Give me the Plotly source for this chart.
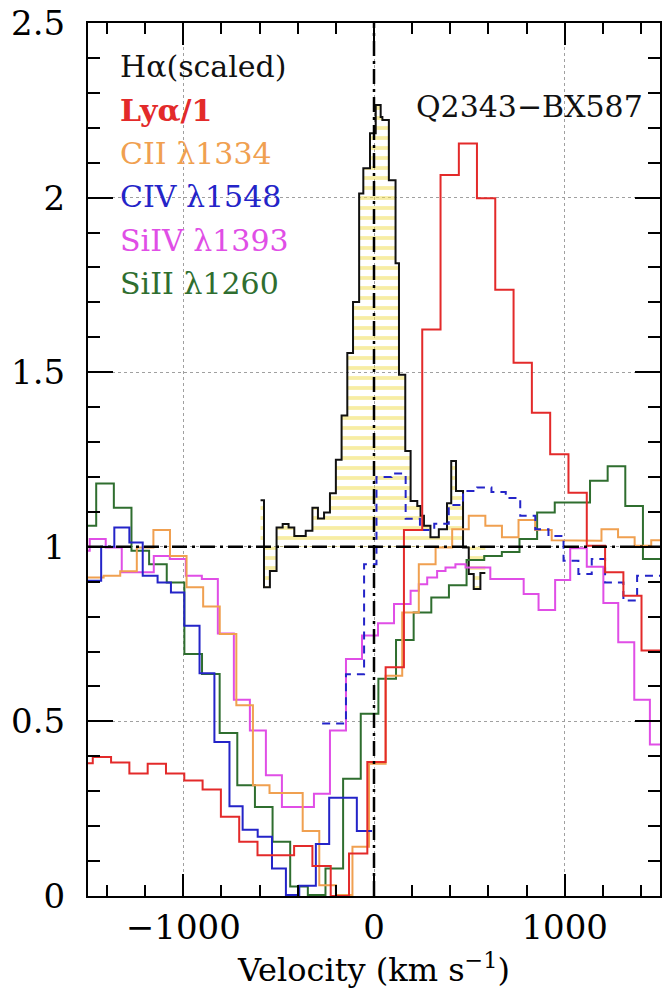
import numpy as np
import plotly.graph_objects as go

# ---------------------------------------------------------------
# Spectra of Q2343-BX587, normalised flux vs. velocity (km/s).
# Each series is a binned spectrum: bin edges + flux per bin.
# ---------------------------------------------------------------

# H-alpha (scaled), shaded relative to the continuum level 1
ha_edges = [-595, -577, -546, -511, -479, -448, -418, -389, -358, -323,
            -294, -262, -231, -200, -170, -140, -110, -78, -56, -21,
            9, 35, 44, 78, 113, 131, 164, 192, 227, 244,
            262, 296, 340, 383, 405, 430, 467, 497, 523, 558, 584]
ha_flux = [1.133, 0.884, 0.931, 1.055, 1.065, 1.055, 1.031, 1.031, 1.046, 1.112,
           1.081, 1.098, 1.153, 1.249, 1.376, 1.555, 1.701, 2.012, 2.084, 2.184,
           2.265, 2.231, 2.222, 2.050, 1.812, 1.493, 1.274, 1.131, 1.117, 1.089,
           1.060, 1.027, 1.050, 1.125, 1.246, 1.160, 0.998, 0.922, 0.879, 0.925]

# Ly-alpha / 1
lya_edges = [-1571, -1475, -1379, -1283, -1187, -1091, -995, -899, -803, -707,
             -611, -515, -419, -323, -227, -131, -35, 61, 157, 253,
             349, 445, 540, 636, 732, 828, 924, 1020, 1116, 1212,
             1308, 1403, 1500]
lya_flux = [0.380, 0.398, 0.382, 0.351, 0.379, 0.351, 0.331, 0.305, 0.227, 0.155,
            0.117, 0.117, 0.143, 0.086, 0.000, 0.122, 0.384, 0.655, 1.048, 1.622,
            2.065, 2.155, 1.998, 1.736, 1.527, 1.384, 1.265, 1.155, 1.003, 0.927,
            0.860, 0.703]

# C II 1334
cii_edges = [-1505, -1418, -1331, -1244, -1157, -1070, -983, -896, -809, -722,
             -635, -548, -461, -374, -287, -200, -113, -26, 61, 148,
             235, 323, 410, 497, 584, 671, 758, 845, 932, 1019,
             1106, 1193, 1280, 1367, 1454, 1541]
cii_flux = [0.912, 0.917, 0.930, 0.998, 1.048, 0.974, 0.884, 0.829, 0.750, 0.546,
            0.317, 0.295, 0.295, 0.186, 0.031, 0.003, 0.141, 0.379, 0.631, 0.812,
            0.950, 0.998, 1.050, 1.089, 1.060, 1.027, 1.077, 1.048, 1.019, 1.017,
            1.017, 1.050, 1.027, 1.003, 1.019]

# C IV 1548 (solid part)
civ_edges = [-1506, -1431, -1362, -1283, -1213, -1135, -1065, -995, -915, -837,
             -758, -689, -610, -535, -462, -392, -305, -235, -170, -90, -10]
civ_flux = [0.903, 1.000, 1.055, 1.012, 0.917, 0.898, 0.869, 0.774, 0.638, 0.441,
            0.257, 0.190, 0.170, 0.079, 0.003, 0.029, 0.149, 0.281, 0.281, 0.186]

# C IV (dashed part)
civd_edges = [-272, -147, -52, 13, 92, 166, 241, 316, 392, 467,
              541, 616, 691, 767, 846, 915, 994, 1072, 1142, 1212,
              1308, 1380, 1510]
civd_flux = [0.494, 0.635, 0.950, 1.200, 1.210, 1.080, 1.048, 1.066, 1.120, 1.160,
             1.170, 1.157, 1.140, 1.089, 1.050, 1.031, 0.960, 0.922, 0.965, 0.898,
             0.846, 0.917]

# Si IV 1393
siiv_edges = [-1575, -1491, -1407, -1323, -1239, -1155, -1071, -987, -903, -819,
              -735, -651, -567, -483, -399, -315, -231, -147, -63, 21,
              105, 192, 235, 279, 331, 375, 427, 480, 610, 785,
              863, 950, 1029, 1116, 1203, 1281, 1365, 1447, 1531]
siiv_flux = [0.989, 1.022, 0.998, 0.927, 0.927, 0.974, 0.965, 0.917, 0.908, 0.752,
             0.562, 0.474, 0.346, 0.255, 0.255, 0.293, 0.474, 0.679, 0.746, 0.781,
             0.836, 0.874, 0.893, 0.912, 0.931, 0.941, 0.950, 0.941, 0.908, 0.865,
             0.819, 0.905, 0.996, 0.943, 0.839, 0.727, 0.562, 0.434]

# Si II 1260
sii_edges = [-1549.5, -1457, -1364.5, -1272, -1179.5, -1087, -994.5, -902, -809.5, -717,
             -624.5, -532, -439.5, -347, -254.5, -162, -69.5, 23, 115.5, 208,
             300.5, 393, 485.5, 578, 670.5, 763, 855.5, 948, 1040.5, 1133,
             1225.5, 1318, 1410.5, 1503]
sii_flux = [1.060, 1.181, 1.112, 0.989, 0.950, 0.898, 0.693, 0.636, 0.467, 0.317,
            0.255, 0.155, 0.027, 0.003, 0.079, 0.336, 0.522, 0.622, 0.733, 0.812,
            0.855, 0.890, 0.962, 0.974, 0.985, 1.022, 1.098, 1.127, 1.127, 1.189,
            1.231, 1.117, 0.965]

# Axis ticks
x_tickvals = [-1000, 0, 1000]
x_ticktext = ["\u22121000", "0", "1000"]
y_tickvals = [0, 0.5, 1, 1.5, 2, 2.5]
y_ticktext = ["0", "0.5", "1", "1.5", "2", "2.5"]

# Labels
legend_lines = [
    ("H\u03b1(scaled)", "#111111", False),
    ("Ly\u03b1/1", "#e32a2a", True),
    ("CII \u03bb1334", "#f0a050", False),
    ("CIV \u03bb1548", "#2424c8", False),
    ("SiIV \u03bb1393", "#e04ee6", False),
    ("SiII \u03bb1260", "#2f6e2f", False),
]
object_name = "Q2343\u2212BX587"

FONT = "DejaVu Serif"

RED = "#e32a2a"
ORANGE = "#f0a050"
BLUE = "#2424c8"
MAGENTA = "#e04ee6"
GREEN = "#2f6e2f"


def steps(edges, flux):
    """Outline of a binned spectrum: a flat segment across every bin."""
    xs, ys = [], []
    for i, f in enumerate(flux):
        xs += [edges[i], edges[i + 1]]
        ys += [f, f]
    return xs, ys


fig = go.Figure()

# continuum baseline for the H-alpha shading
fig.add_trace(go.Scatter(x=[ha_edges[0], ha_edges[-1]], y=[1, 1], mode="lines",
                         line=dict(width=0, color="rgba(0,0,0,0)"),
                         showlegend=False, hoverinfo="skip"))
hx, hy = steps(ha_edges, ha_flux)
fig.add_trace(go.Scatter(
    x=hx, y=hy, mode="lines", fill="tonexty",
    fillcolor="rgba(0,0,0,0)",
    fillpattern=dict(shape="-", fgcolor="#f0dc4a", bgcolor="rgba(255,255,255,0)",
                     size=10, solidity=0.38),
    line=dict(color="#111111", width=2), showlegend=False))

series = [
    (sii_edges, sii_flux, GREEN, "solid"),
    (siiv_edges, siiv_flux, MAGENTA, "solid"),
    (cii_edges, cii_flux, ORANGE, "solid"),
    (civ_edges, civ_flux, BLUE, "solid"),
    (civd_edges, civd_flux, BLUE, "8px,6px"),
    (lya_edges, lya_flux, RED, "solid"),
]
for e, f, c, d in series:
    sx, sy = steps(e, f)
    fig.add_trace(go.Scatter(x=sx, y=sy, mode="lines",
                             line=dict(color=c, width=2, dash=d),
                             showlegend=False))

# reference lines: systemic velocity and continuum
ref_dash = "15px,5px,3px,5px"
fig.add_shape(type="line", x0=0, x1=0, y0=0, y1=1, xref="x", yref="paper",
              line=dict(color="black", width=2.5, dash=ref_dash), layer="above")
fig.add_shape(type="line", x0=0, x1=1, y0=1, y1=1, xref="paper", yref="y",
              line=dict(color="black", width=2.5, dash=ref_dash), layer="above")

# line labels
y0 = 0.950
for i, (txt, col, bold) in enumerate(legend_lines):
    fig.add_annotation(x=0.052, y=y0 - i * 0.0497, xref="paper", yref="paper",
                       text=f"<b>{txt}</b>" if bold else txt, showarrow=False,
                       xanchor="left", yanchor="middle",
                       font=dict(family=FONT, size=30, color=col))
fig.add_annotation(x=0.570, y=0.904, xref="paper", yref="paper", text=object_name,
                   showarrow=False, xanchor="left", yanchor="middle",
                   font=dict(family=FONT, size=30, color="#111111"))

axis_common = dict(
    showline=True, linewidth=2, linecolor="black", mirror="ticks",
    ticks="inside", tickcolor="black", tickwidth=2,
    showgrid=True, gridcolor="#a0a0a0", griddash="dot", gridwidth=1,
    zeroline=False,
    tickfont=dict(family=FONT, size=34, color="black"),
)

fig.update_xaxes(
    range=[-1500, 1500], tickmode="array", tickvals=x_tickvals, ticktext=x_ticktext,
    ticklen=22,
    minor=dict(tickmode="array", tickvals=list(np.arange(-1400, 1401, 200)),
               ticks="inside", ticklen=11, tickwidth=1.5, tickcolor="black", showgrid=False),
    title=dict(text="Velocity (km s<sup>\u22121</sup>)", standoff=10,
               font=dict(family=FONT, size=32, color="black")),
    **axis_common)
fig.update_yaxes(
    range=[0, 2.5], tickmode="array", tickvals=y_tickvals, ticktext=y_ticktext,
    ticklen=25, ticklabelstandoff=14,
    minor=dict(tickmode="array", tickvals=list(np.round(np.arange(0.1, 2.45, 0.1), 2)),
               ticks="inside", ticklen=12, tickwidth=1.5, tickcolor="black", showgrid=False),
    **axis_common)

fig.update_layout(
    width=665, height=993,
    margin=dict(l=88, r=3, t=21, b=97),
    paper_bgcolor="white", plot_bgcolor="white",
    showlegend=False,
)

fig.write_html("out.html")
